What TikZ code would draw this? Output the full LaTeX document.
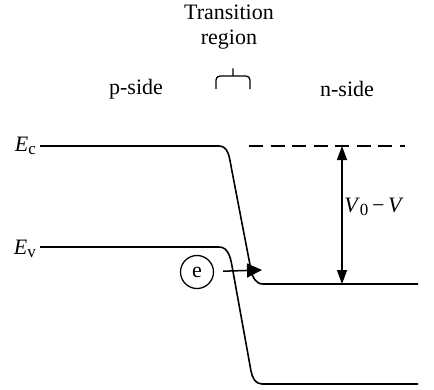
\documentclass[tikz,border=0pt]{standalone}
\usepackage{fontspec}
\setmainfont{Liberation Serif}
\usetikzlibrary{arrows.meta}
\begin{document}
\begin{tikzpicture}[x=1pt,y=-1pt,
  band/.style={line width=1.6pt},
  lbl/.style={font=\fontsize{22}{25}\selectfont, inner sep=0pt},
  tip/.style={-{Triangle[length=15pt,width=14pt]}},
  dtip/.style={{Triangle[length=14pt,width=10pt]}-{Triangle[length=14pt,width=10pt]}}]
\useasboundingbox (0,0) rectangle (434,389);
% labels
\node[lbl, align=center] (tr) at (229,27) {Transition\\region};
\node[lbl] (ps) at (136,89) {p-side};
\node[lbl] (ns) at (347,89) {n-side};
\node[lbl, anchor=east] (ec) at (36,146) {\textit{E}\raisebox{-0.35ex}{\fontsize{17}{20}\selectfont c}};
\node[lbl, anchor=east] (ev) at (36,249) {\textit{E}\raisebox{-0.35ex}{\fontsize{17}{20}\selectfont v}};
% brace
\coordinate (bl) at (216,89);
\coordinate (bm) at (233,66);
\coordinate (br) at (250,89);
\draw[line width=1.3pt, rounded corners=4pt] (bl) -- (216,76) -- (229,76)
  to[out=0,in=-90] (bm) to[out=-90,in=180] (237,76) -- (250,76) -- (br);
% conduction band
\coordinate (c0) at (40,146);
\coordinate (c1) at (219,146);
\coordinate (c2) at (231,166);
\coordinate (c3) at (251,270);
\coordinate (c4) at (263,284);
\coordinate (c5) at (418,284);
\draw[band] (c0) -- (c1) to[out=0,in=100] (c2) -- (c3) to[out=-80,in=180] (c4) -- (c5);
% valence band
\coordinate (v0) at (40,247);
\coordinate (v1) at (219,247);
\coordinate (v2) at (232,266);
\coordinate (v3) at (251,371);
\coordinate (v4) at (262,384);
\coordinate (v5) at (418,384);
\draw[band] (v0) -- (v1) to[out=0,in=100] (v2) -- (v3) to[out=-80,in=180] (v4) -- (v5);
% dashed
\coordinate (d0) at (249,146);
\coordinate (d1) at (405,146);
\draw[band, dash pattern=on 14pt off 7.5pt] (d0) -- (d1);
% V0-V arrow
\coordinate (vt) at (342,146);
\coordinate (vb) at (342,284);
\draw[line width=1.5pt, dtip] (vt) -- (vb);
\node[lbl] (vl) at (374,207) {\textit{V}\raisebox{-0.35ex}{\fontsize{17}{20}\selectfont 0}\,−\,\textit{V}};
% electron
\node[draw, circle, line width=1.3pt, minimum size=33pt, inner sep=0pt, font=\fontsize{22}{25}\selectfont] (e) at (197,272) {e};
\coordinate (et) at (262,270);
\draw[line width=1.5pt, tip, shorten <=9pt] (e) -- (et);
\end{tikzpicture}
\end{document}
